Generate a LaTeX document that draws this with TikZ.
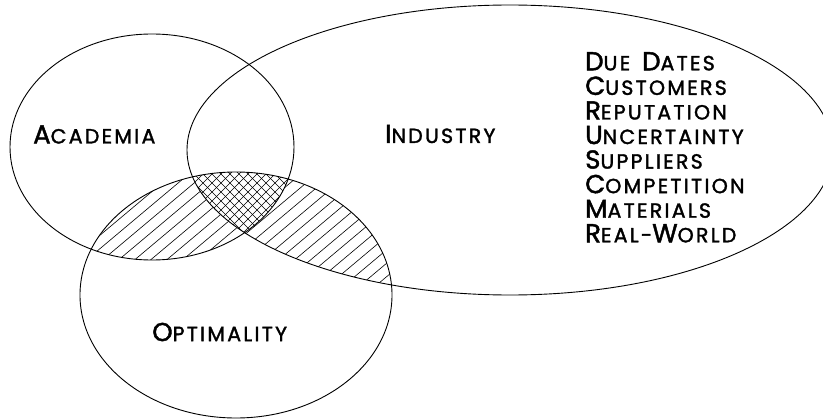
\documentclass[tikz,border=0pt]{standalone}
\usepackage{fontspec}
\newfontfamily\plotfont[LetterSpace=11, FakeBold=1.7]{Poppins}
\usetikzlibrary{positioning}

\newcommand{\capword}[2]{{\fontsize{26}{24.57}\selectfont #1}{\fontsize{20.5}{24.57}\selectfont #2}}

\begin{document}
\begin{tikzpicture}[x=1pt, y=-1pt,
  outline/.style={line width=0.9pt},
  hatch/.style={line width=0.6pt},
  crosshatch/.style={line width=0.5pt},
  setname/.style={anchor=west, inner sep=0pt,
                  font=\plotfont\fontsize{20.5}{24.57}\selectfont}
]
\useasboundingbox (0,0) rectangle (823,420);
\def\academia{(152,147) ellipse [x radius=142pt, y radius=113pt]}
\def\industry{(510,150) ellipse [x radius=323pt, y radius=145pt]}
\def\optimality{(236,295) ellipse [x radius=156pt, y radius=123pt]}

% single hatching where optimality meets one other set
\begin{scope}
  \clip \optimality;
  \clip \academia;
  \foreach \x in {-520,-504,...,830} \draw[hatch] (\x,420) -- ++(500,-420);
\end{scope}
\begin{scope}
  \clip \optimality;
  \clip \industry;
  \foreach \x in {-520,-504,...,830} \draw[hatch] (\x,420) -- ++(500,-420);
\end{scope}

% cross hatching in the common part
\begin{scope}
  \clip \optimality;
  \clip \academia;
  \clip \industry;
  \fill[white] (0,0) rectangle (823,420);
  \foreach \x in {-430,-421,...,830} {
    \draw[crosshatch] (\x,420) -- ++(420,-420);
    \draw[crosshatch] (\x,0) -- ++(420,420);
  }
\end{scope}

\draw[outline] \academia;
\draw[outline] \industry;
\draw[outline] \optimality;

\node[setname] (academia) at (33,134.5) {\capword{A}{CADEMIA}};
\node[setname] (industry) at (385,134) {\capword{I}{NDUSTRY}};
\node[setname] (optimality) at (152,332) {\capword{O}{PTIMALITY}};
\node[setname, anchor=north west, align=left] (factors) at (585,52)
  {\capword{D}{UE}\hspace{12pt}\capword{D}{ATES}\\
   \capword{C}{USTOMERS}\\
   \capword{R}{EPUTATION}\\
   \capword{U}{NCERTAINTY}\\
   \capword{S}{UPPLIERS}\\
   \capword{C}{OMPETITION}\\
   \capword{M}{ATERIALS}\\
   \capword{R}{EAL-}\capword{W}{ORLD}};
\end{tikzpicture}
\end{document}
